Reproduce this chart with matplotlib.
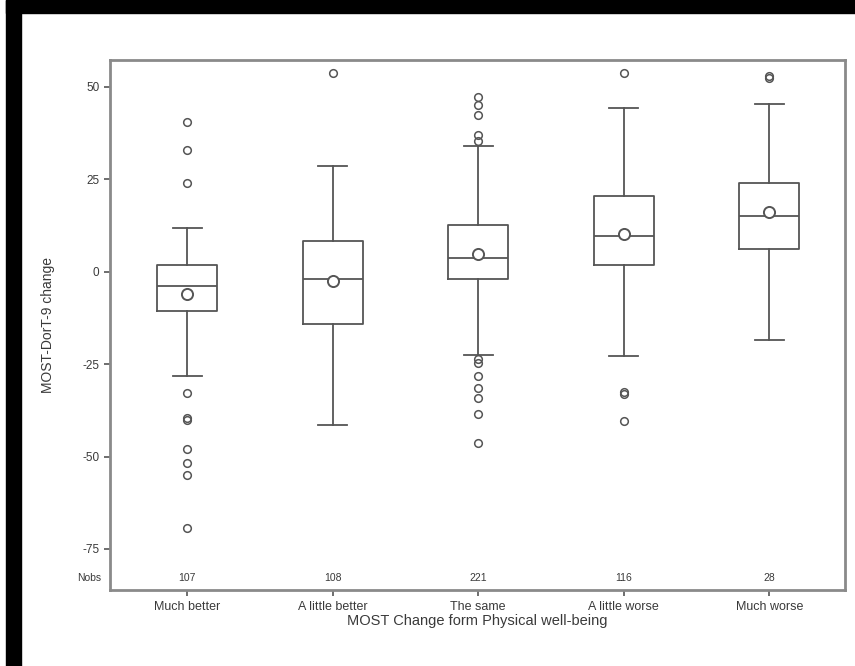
import matplotlib
matplotlib.use("Agg")
import matplotlib.pyplot as plt
from matplotlib.patches import Rectangle

plt.rcParams['font.family'] = ['Liberation Sans', 'DejaVu Sans']
plt.rcParams['axes.unicode_minus'] = False

# =====================================
# DATA
# =====================================
categories = ["Much better", "A little better", "The same", "A little worse", "Much worse"]
nobs = [107, 108, 221, 116, 28]

q1 = [-10.6, -14.1, -1.9, 1.9, 6.2]
median = [-3.8, -1.9, 3.8, 9.8, 15.2]
q3 = [1.8, 8.4, 12.7, 20.6, 24.1]
mean = [-6.1, -2.4, 4.9, 10.3, 16.3]
whisker_lo = [-28.3, -41.4, -22.5, -22.8, -18.4]
whisker_hi = [11.9, 28.5, 34.1, 44.2, 45.3]
outliers = [
    [40.6, 33.0, 24.1, -32.8, -39.5, -40.0, -48.0, -51.8, -55.0, -69.4],
    [53.9],
    [47.2, 45.0, 42.3, 36.9, 35.5, -23.6, -24.7, -28.2, -31.4, -34.1, -38.5, -46.3],
    [53.9, -32.5, -33.1, -40.4],
    [52.3, 53.0],
]

# =====================================
# FIGURE
# =====================================
line_col = "#555555"
text_col = "#3a3a3a"

fig = plt.figure(figsize=(8.55, 6.66), dpi=100)
fig.patches.append(Rectangle((6 / 855, 0), 15 / 855, 1, transform=fig.transFigure,
                             color="black", zorder=0))
fig.patches.append(Rectangle((6 / 855, 1 - 13 / 666), 1, 13 / 666, transform=fig.transFigure,
                             color="black", zorder=0))

ax = fig.add_axes([110 / 855, 1 - 590 / 666, 735 / 855, 530 / 666])

stats = []
for i in range(len(categories)):
    stats.append({
        "label": categories[i],
        "q1": q1[i], "med": median[i], "q3": q3[i], "mean": mean[i],
        "whislo": whisker_lo[i], "whishi": whisker_hi[i],
        "fliers": outliers[i],
    })

positions = list(range(1, len(categories) + 1))
ax.bxp(
    stats, positions=positions, widths=0.41, showmeans=True,
    boxprops=dict(color=line_col, linewidth=1.3),
    medianprops=dict(color=line_col, linewidth=1.3),
    whiskerprops=dict(color=line_col, linewidth=1.3),
    capprops=dict(color=line_col, linewidth=1.3),
    capwidths=0.2,
    flierprops=dict(marker="o", markersize=5.5, markerfacecolor="none",
                    markeredgecolor=line_col, markeredgewidth=1.1),
    meanprops=dict(marker="o", markersize=8, markerfacecolor="white",
                   markeredgecolor=line_col, markeredgewidth=1.4),
)

ax.set_xlim(0.47, 5.52)
ax.set_ylim(-86.1, 57.3)

ax.set_yticks([50, 25, 0, -25, -50, -75])
ax.set_xticks(positions)
ax.set_xticklabels(categories)
ax.tick_params(axis="both", colors=line_col, labelcolor=text_col, labelsize=8.5,
               length=4, width=1.2, direction="out")
ax.tick_params(axis="x", pad=4, labelsize=9)

# Nobs row
nobs_y = -82.8
for x, n in zip(positions, nobs):
    ax.text(x, nobs_y, str(n), ha="center", va="center", fontsize=7.5, color=text_col)
ax.text(-0.012, nobs_y, "Nobs", transform=ax.get_yaxis_transform(), ha="right",
        va="center", fontsize=7.5, color=text_col)

for side in ax.spines.values():
    side.set_color("#8a8a8a")
    side.set_linewidth(2)

ax.set_ylabel("MOST-DorT-9 change", fontsize=10, color=text_col, labelpad=20)
ax.set_xlabel("MOST Change form Physical well-being", fontsize=10.5, color=text_col,
              labelpad=1)

plt.savefig("out.png", dpi=100)
plt.close()
